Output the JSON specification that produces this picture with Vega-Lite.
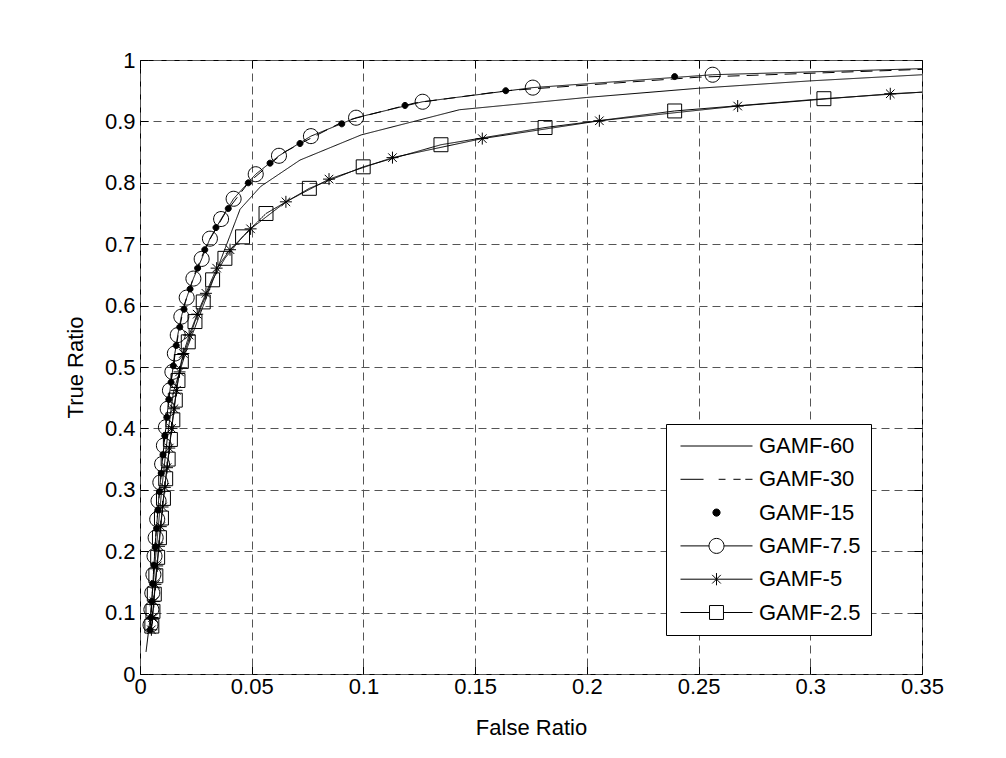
{
  "$schema": "https://vega.github.io/schema/vega-lite/v6.json",
  "width": 782,
  "height": 614,
  "autosize": {"type": "none"},
  "padding": {"left": 140, "top": 60, "right": 84, "bottom": 84},
  "background": "white",
  "config": {
    "view": {"stroke": "black", "strokeWidth": 1},
    "axis": {
      "labelFont": "Liberation Sans",
      "labelFontSize": 22,
      "labelColor": "black",
      "titleFont": "Liberation Sans",
      "titleFontSize": 22,
      "titleFontWeight": "normal",
      "titleColor": "black",
      "domain": false,
      "tickColor": "black",
      "tickWidth": 1,
      "tickSize": -8,
      "gridColor": "#555555",
      "gridDash": [8, 5],
      "gridWidth": 1
    },
    "legend": {
      "orient": "none",
      "legendX": 526,
      "legendY": 364,
      "symbolSize": 5184,
      "clipHeight": 24,
      "rowPadding": 9.3,
      "padding": 10,
      "symbolOffset": 4,
      "labelOffset": 6,
      "strokeColor": "black",
      "fillColor": "white",
      "cornerRadius": 0,
      "labelFont": "Liberation Sans",
      "labelFontSize": 22,
      "labelColor": "black",
      "symbolStrokeWidth": 1,
      "symbolStrokeColor": "black"
    }
  },
  "data": {
    "values": [
      {"s": "GAMF-60", "x": 0.0027, "y": 0.036},
      {"s": "GAMF-60", "x": 0.0045, "y": 0.09},
      {"s": "GAMF-60", "x": 0.006, "y": 0.15},
      {"s": "GAMF-60", "x": 0.0077, "y": 0.22},
      {"s": "GAMF-60", "x": 0.0097, "y": 0.30},
      {"s": "GAMF-60", "x": 0.0124, "y": 0.39},
      {"s": "GAMF-60", "x": 0.015, "y": 0.46},
      {"s": "GAMF-60", "x": 0.021, "y": 0.53},
      {"s": "GAMF-60", "x": 0.0448, "y": 0.757},
      {"s": "GAMF-60", "x": 0.054, "y": 0.794},
      {"s": "GAMF-60", "x": 0.0716, "y": 0.837},
      {"s": "GAMF-60", "x": 0.099, "y": 0.878},
      {"s": "GAMF-60", "x": 0.143, "y": 0.919},
      {"s": "GAMF-60", "x": 0.2, "y": 0.939},
      {"s": "GAMF-60", "x": 0.25, "y": 0.954},
      {"s": "GAMF-60", "x": 0.3, "y": 0.966},
      {"s": "GAMF-60", "x": 0.36, "y": 0.978},

      {"s": "GAMF-30", "x": 0.0045, "y": 0.07},
      {"s": "GAMF-30", "x": 0.005, "y": 0.1},
      {"s": "GAMF-30", "x": 0.0058, "y": 0.15},
      {"s": "GAMF-30", "x": 0.0066, "y": 0.2},
      {"s": "GAMF-30", "x": 0.0076, "y": 0.25},
      {"s": "GAMF-30", "x": 0.0088, "y": 0.3},
      {"s": "GAMF-30", "x": 0.0101, "y": 0.35},
      {"s": "GAMF-30", "x": 0.0115, "y": 0.4},
      {"s": "GAMF-30", "x": 0.013, "y": 0.45},
      {"s": "GAMF-30", "x": 0.0148, "y": 0.5},
      {"s": "GAMF-30", "x": 0.017, "y": 0.55},
      {"s": "GAMF-30", "x": 0.0197, "y": 0.6},
      {"s": "GAMF-30", "x": 0.0243, "y": 0.65},
      {"s": "GAMF-30", "x": 0.03, "y": 0.7},
      {"s": "GAMF-30", "x": 0.038, "y": 0.75},
      {"s": "GAMF-30", "x": 0.0485, "y": 0.8},
      {"s": "GAMF-30", "x": 0.0645, "y": 0.85},
      {"s": "GAMF-30", "x": 0.091, "y": 0.9},
      {"s": "GAMF-30", "x": 0.123, "y": 0.93},
      {"s": "GAMF-30", "x": 0.164, "y": 0.95},
      {"s": "GAMF-30", "x": 0.25, "y": 0.972},
      {"s": "GAMF-30", "x": 0.36, "y": 0.986},

      {"s": "GAMF-15", "x": 0.2393, "y": 0.973},
      {"s": "GAMF-15", "x": 0.1637, "y": 0.950},
      {"s": "GAMF-15", "x": 0.1186, "y": 0.926},
      {"s": "GAMF-15", "x": 0.0903, "y": 0.896},
      {"s": "GAMF-15", "x": 0.0716, "y": 0.864},
      {"s": "GAMF-15", "x": 0.0582, "y": 0.832},
      {"s": "GAMF-15", "x": 0.0485, "y": 0.800},
      {"s": "GAMF-15", "x": 0.0395, "y": 0.758},
      {"s": "GAMF-15", "x": 0.034, "y": 0.727},
      {"s": "GAMF-15", "x": 0.029, "y": 0.691},
      {"s": "GAMF-15", "x": 0.0258, "y": 0.661},
      {"s": "GAMF-15", "x": 0.0224, "y": 0.627},
      {"s": "GAMF-15", "x": 0.0197, "y": 0.594},
      {"s": "GAMF-15", "x": 0.0178, "y": 0.565},
      {"s": "GAMF-15", "x": 0.0162, "y": 0.535},
      {"s": "GAMF-15", "x": 0.0149, "y": 0.502},
      {"s": "GAMF-15", "x": 0.0139, "y": 0.475},
      {"s": "GAMF-15", "x": 0.0129, "y": 0.447},
      {"s": "GAMF-15", "x": 0.012, "y": 0.418},
      {"s": "GAMF-15", "x": 0.0111, "y": 0.388},
      {"s": "GAMF-15", "x": 0.0103, "y": 0.357},
      {"s": "GAMF-15", "x": 0.0095, "y": 0.327},
      {"s": "GAMF-15", "x": 0.0087, "y": 0.297},
      {"s": "GAMF-15", "x": 0.008, "y": 0.267},
      {"s": "GAMF-15", "x": 0.0074, "y": 0.237},
      {"s": "GAMF-15", "x": 0.0068, "y": 0.207},
      {"s": "GAMF-15", "x": 0.0062, "y": 0.177},
      {"s": "GAMF-15", "x": 0.0057, "y": 0.147},
      {"s": "GAMF-15", "x": 0.0053, "y": 0.118},
      {"s": "GAMF-15", "x": 0.0049, "y": 0.092},
      {"s": "GAMF-15", "x": 0.0045, "y": 0.072},

      {"s": "GAMF-7.5", "x": 0.37, "y": 0.988},
      {"s": "GAMF-7.5", "x": 0.2563, "y": 0.976},
      {"s": "GAMF-7.5", "x": 0.1758, "y": 0.955},
      {"s": "GAMF-7.5", "x": 0.1265, "y": 0.932},
      {"s": "GAMF-7.5", "x": 0.0967, "y": 0.906},
      {"s": "GAMF-7.5", "x": 0.0765, "y": 0.876},
      {"s": "GAMF-7.5", "x": 0.0622, "y": 0.844},
      {"s": "GAMF-7.5", "x": 0.0518, "y": 0.814},
      {"s": "GAMF-7.5", "x": 0.0419, "y": 0.774},
      {"s": "GAMF-7.5", "x": 0.0363, "y": 0.741},
      {"s": "GAMF-7.5", "x": 0.0313, "y": 0.709},
      {"s": "GAMF-7.5", "x": 0.0276, "y": 0.676},
      {"s": "GAMF-7.5", "x": 0.0239, "y": 0.644},
      {"s": "GAMF-7.5", "x": 0.0209, "y": 0.613},
      {"s": "GAMF-7.5", "x": 0.0185, "y": 0.582},
      {"s": "GAMF-7.5", "x": 0.0169, "y": 0.552},
      {"s": "GAMF-7.5", "x": 0.0156, "y": 0.522},
      {"s": "GAMF-7.5", "x": 0.0145, "y": 0.492},
      {"s": "GAMF-7.5", "x": 0.0134, "y": 0.462},
      {"s": "GAMF-7.5", "x": 0.0124, "y": 0.432},
      {"s": "GAMF-7.5", "x": 0.0116, "y": 0.402},
      {"s": "GAMF-7.5", "x": 0.0107, "y": 0.372},
      {"s": "GAMF-7.5", "x": 0.0099, "y": 0.342},
      {"s": "GAMF-7.5", "x": 0.0091, "y": 0.312},
      {"s": "GAMF-7.5", "x": 0.0083, "y": 0.282},
      {"s": "GAMF-7.5", "x": 0.0077, "y": 0.252},
      {"s": "GAMF-7.5", "x": 0.007, "y": 0.222},
      {"s": "GAMF-7.5", "x": 0.0065, "y": 0.192},
      {"s": "GAMF-7.5", "x": 0.006, "y": 0.162},
      {"s": "GAMF-7.5", "x": 0.0055, "y": 0.132},
      {"s": "GAMF-7.5", "x": 0.0051, "y": 0.105},
      {"s": "GAMF-7.5", "x": 0.0047, "y": 0.08},

      {"s": "GAMF-5", "x": 0.42, "y": 0.96},
      {"s": "GAMF-5", "x": 0.3358, "y": 0.945},
      {"s": "GAMF-5", "x": 0.2675, "y": 0.925},
      {"s": "GAMF-5", "x": 0.2056, "y": 0.901},
      {"s": "GAMF-5", "x": 0.1532, "y": 0.872},
      {"s": "GAMF-5", "x": 0.113, "y": 0.841},
      {"s": "GAMF-5", "x": 0.0846, "y": 0.806},
      {"s": "GAMF-5", "x": 0.0653, "y": 0.769},
      {"s": "GAMF-5", "x": 0.0495, "y": 0.725},
      {"s": "GAMF-5", "x": 0.0403, "y": 0.691},
      {"s": "GAMF-5", "x": 0.0343, "y": 0.661},
      {"s": "GAMF-5", "x": 0.0295, "y": 0.62},
      {"s": "GAMF-5", "x": 0.0256, "y": 0.586},
      {"s": "GAMF-5", "x": 0.022, "y": 0.552},
      {"s": "GAMF-5", "x": 0.0194, "y": 0.522},
      {"s": "GAMF-5", "x": 0.0177, "y": 0.492},
      {"s": "GAMF-5", "x": 0.0163, "y": 0.462},
      {"s": "GAMF-5", "x": 0.0152, "y": 0.432},
      {"s": "GAMF-5", "x": 0.0141, "y": 0.4},
      {"s": "GAMF-5", "x": 0.0131, "y": 0.368},
      {"s": "GAMF-5", "x": 0.0121, "y": 0.336},
      {"s": "GAMF-5", "x": 0.0111, "y": 0.304},
      {"s": "GAMF-5", "x": 0.0101, "y": 0.272},
      {"s": "GAMF-5", "x": 0.0093, "y": 0.24},
      {"s": "GAMF-5", "x": 0.0085, "y": 0.208},
      {"s": "GAMF-5", "x": 0.0077, "y": 0.176},
      {"s": "GAMF-5", "x": 0.0069, "y": 0.146},
      {"s": "GAMF-5", "x": 0.0062, "y": 0.118},
      {"s": "GAMF-5", "x": 0.0056, "y": 0.092},
      {"s": "GAMF-5", "x": 0.0051, "y": 0.072},

      {"s": "GAMF-2.5", "x": 0.38, "y": 0.955},
      {"s": "GAMF-2.5", "x": 0.3061, "y": 0.937},
      {"s": "GAMF-2.5", "x": 0.2393, "y": 0.917},
      {"s": "GAMF-2.5", "x": 0.1813, "y": 0.89},
      {"s": "GAMF-2.5", "x": 0.1347, "y": 0.862},
      {"s": "GAMF-2.5", "x": 0.0999, "y": 0.826},
      {"s": "GAMF-2.5", "x": 0.0758, "y": 0.791},
      {"s": "GAMF-2.5", "x": 0.0564, "y": 0.75},
      {"s": "GAMF-2.5", "x": 0.0459, "y": 0.712},
      {"s": "GAMF-2.5", "x": 0.038, "y": 0.677},
      {"s": "GAMF-2.5", "x": 0.0325, "y": 0.642},
      {"s": "GAMF-2.5", "x": 0.0283, "y": 0.606},
      {"s": "GAMF-2.5", "x": 0.0246, "y": 0.574},
      {"s": "GAMF-2.5", "x": 0.0216, "y": 0.541},
      {"s": "GAMF-2.5", "x": 0.0185, "y": 0.509},
      {"s": "GAMF-2.5", "x": 0.017, "y": 0.478},
      {"s": "GAMF-2.5", "x": 0.0158, "y": 0.446},
      {"s": "GAMF-2.5", "x": 0.0147, "y": 0.414},
      {"s": "GAMF-2.5", "x": 0.0136, "y": 0.382},
      {"s": "GAMF-2.5", "x": 0.0126, "y": 0.35},
      {"s": "GAMF-2.5", "x": 0.0115, "y": 0.318},
      {"s": "GAMF-2.5", "x": 0.0105, "y": 0.286},
      {"s": "GAMF-2.5", "x": 0.0096, "y": 0.254},
      {"s": "GAMF-2.5", "x": 0.0087, "y": 0.222},
      {"s": "GAMF-2.5", "x": 0.0079, "y": 0.19},
      {"s": "GAMF-2.5", "x": 0.0071, "y": 0.16},
      {"s": "GAMF-2.5", "x": 0.0064, "y": 0.13},
      {"s": "GAMF-2.5", "x": 0.0058, "y": 0.102},
      {"s": "GAMF-2.5", "x": 0.0053, "y": 0.078}
    ]
  },
  "layer": [
    {
      "transform": [{"filter": "datum.s !== 'GAMF-15'"}],
      "mark": {"type": "line", "color": "black", "strokeWidth": 1, "clip": true},
      "encoding": {
        "x": {
          "field": "x", "type": "quantitative",
          "scale": {"domain": [0, 0.35], "nice": false, "zero": false},
          "axis": {
            "orient": "bottom", "title": "False Ratio", "format": "~g",
            "values": [0, 0.05, 0.1, 0.15, 0.2, 0.25, 0.3, 0.35],
            "grid": true, "labelPadding": 10, "titlePadding": 20, "labelFlush": false
          }
        },
        "y": {
          "field": "y", "type": "quantitative",
          "scale": {"domain": [0, 1], "nice": false, "zero": false},
          "axis": {
            "orient": "left", "title": "True Ratio", "format": "~g",
            "values": [0, 0.1, 0.2, 0.3, 0.4, 0.5, 0.6, 0.7, 0.8, 0.9, 1],
            "grid": true, "labelPadding": 13, "titlePadding": 17, "labelFlush": false
          }
        },
        "detail": {"field": "s"},
        "strokeDash": {
          "field": "s", "type": "nominal", "legend": null,
          "scale": {
            "domain": ["GAMF-60", "GAMF-30", "GAMF-7.5", "GAMF-5", "GAMF-2.5"],
            "range": [[1, 0], [12, 7], [1, 0], [1, 0], [1, 0]]
          }
        }
      }
    },
    {
      "transform": [{"filter": "datum.s !== 'GAMF-60' && datum.s !== 'GAMF-30'"}],
      "mark": {"type": "point", "size": 225, "strokeWidth": 1, "stroke": "black", "clip": true, "opacity": 1},
      "encoding": {
        "x": {
          "field": "x", "type": "quantitative",
          "scale": {"domain": [0, 0.35], "nice": false, "zero": false},
          "axis": {
            "orient": "top", "title": null, "labels": false, "grid": false,
            "values": [0, 0.05, 0.1, 0.15, 0.2, 0.25, 0.3, 0.35]
          }
        },
        "y": {
          "field": "y", "type": "quantitative",
          "scale": {"domain": [0, 1], "nice": false, "zero": false},
          "axis": {
            "orient": "right", "title": null, "labels": false, "grid": false,
            "values": [0, 0.1, 0.2, 0.3, 0.4, 0.5, 0.6, 0.7, 0.8, 0.9, 1]
          }
        },
        "fill": {
          "condition": {"test": "datum.s === 'GAMF-15'", "value": "black"},
          "value": "transparent"
        },
        "shape": {
          "field": "s", "type": "nominal", "legend": null,
          "scale": {
            "domain": ["GAMF-15", "GAMF-7.5", "GAMF-5", "GAMF-2.5"],
            "range": [
              "M0.4,0A0.4,0.4 0 1,1 -0.4,0A0.4,0.4 0 1,1 0.4,0Z",
              "M1,0A1,1 0 1,1 -1,0A1,1 0 1,1 1,0Z",
              "M0,-0.8V0.8M-0.8,0H0.8M-0.57,-0.57L0.57,0.57M-0.57,0.57L0.57,-0.57",
              "M-0.93,-0.93H0.93V0.93H-0.93Z"
            ]
          }
        }
      }
    },
    {
      "transform": [{"filter": "false"}],
      "mark": {"type": "point", "strokeWidth": 1, "opacity": 1},
      "encoding": {
        "x": {"field": "x", "type": "quantitative", "axis": null},
        "y": {"field": "y", "type": "quantitative", "axis": null},
        "shape": {
          "field": "s", "type": "nominal",
          "scale": {
            "domain": ["GAMF-60", "GAMF-30", "GAMF-15", "GAMF-7.5", "GAMF-5", "GAMF-2.5"],
            "range": [
              "M-1,0H1",
              "M-1,0H-0.36M0.06,0H0.25M0.47,0H0.67M0.8,0H1",
              "M0.1,0A0.1,0.1 0 1,1 -0.1,0A0.1,0.1 0 1,1 0.1,0Z",
              "M-1,0H-0.208M0.208,0H1M0.208,0A0.208,0.208 0 1,1 -0.208,0A0.208,0.208 0 1,1 0.208,0Z",
              "M-1,0H1M0,-0.17V0.17M-0.12,-0.12L0.12,0.12M-0.12,0.12L0.12,-0.12",
              "M-1,0H-0.194M0.194,0H1M-0.194,-0.194H0.194V0.194H-0.194Z"
            ]
          },
          "legend": {"title": null}
        },
        "fill": {
          "field": "s", "type": "nominal",
          "scale": {
            "domain": ["GAMF-60", "GAMF-30", "GAMF-15", "GAMF-7.5", "GAMF-5", "GAMF-2.5"],
            "range": ["transparent", "transparent", "black", "transparent", "transparent", "transparent"]
          },
          "legend": {"title": null}
        },
        "stroke": {
          "field": "s", "type": "nominal",
          "scale": {
            "domain": ["GAMF-60", "GAMF-30", "GAMF-15", "GAMF-7.5", "GAMF-5", "GAMF-2.5"],
            "range": ["black", "black", "black", "black", "black", "black"]
          },
          "legend": {"title": null}
        }
      }
    }
  ],
  "resolve": {
    "axis": {"x": "independent", "y": "independent"},
    "scale": {"shape": "independent", "fill": "independent", "stroke": "independent"},
    "legend": {"shape": "independent", "fill": "independent", "stroke": "independent"}
  }
}
